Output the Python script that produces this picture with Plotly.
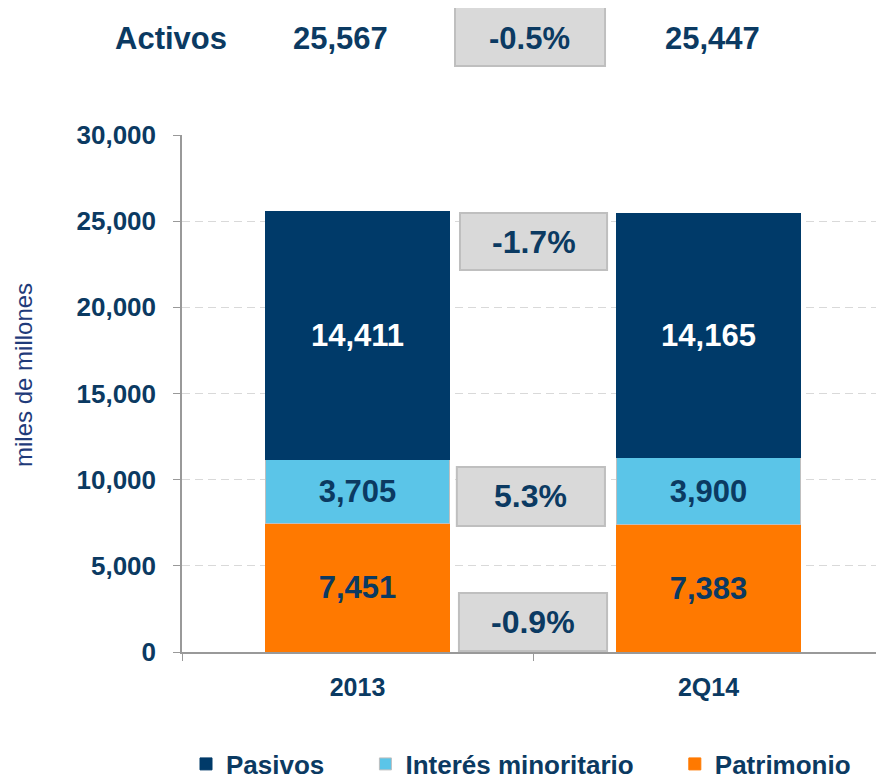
import plotly.graph_objects as go

# ---------------- data ----------------
categories = ["2013", "2Q14"]
patrimonio = [7451, 7383]
interes = [3705, 3900]
pasivos = [14411, 14165]
activos = [25567, 25447]
series_names = ["Patrimonio", "Interés minoritario", "Pasivos"]
y_ticks = [0, 5000, 10000, 15000, 20000, 25000, 30000]
y_title = "miles de millones"

# ---------------- styles ----------------
FONT = "Liberation Sans, Arial, sans-serif"
NAVY = "#003a69"
TEXT_NAVY = "#0b3a62"
LIGHT_BLUE = "#5bc5e8"
ORANGE = "#ff7900"
BOX_FILL = "#d9d9d9"
BOX_LINE = "#bfbfbf"
NBSP = "\u00a0"
W, H = 876, 776  # page body has an 8px margin


def pct(a, b):
    return f"{(b - a) / a * 100:.1f}%"


fig = go.Figure()

series = [
    (series_names[0], patrimonio, ORANGE, ORANGE, TEXT_NAVY, 0),
    (series_names[1], interes, LIGHT_BLUE, BOX_LINE, TEXT_NAVY, 5),
    (series_names[2], pasivos, NAVY, NAVY, "white", 5),
]
for name, vals, color, lcolor, tcolor, pad in series:
    fig.add_trace(go.Bar(
        x=categories, y=vals, name=name + NBSP * pad,
        marker=dict(color=color, line=dict(color=lcolor, width=1)),
        width=0.527,
        text=[f"{v:,}" for v in vals],
        textposition="inside", insidetextanchor="middle",
        textfont=dict(family=FONT, size=31, color=tcolor, weight="bold"),
        constraintext="none",
        hoverinfo="skip",
    ))

# change boxes inside plot (layout positions)
boxes = [
    (pct(pasivos[0], pasivos[1]), 0.292, 0.711, 22170, 25470),
    (pct(interes[0], interes[1]), 0.283, 0.705, 7310, 10740),
    (pct(patrimonio[0], patrimonio[1]), 0.289, 0.711, 60, 3420),
]
shapes = []
annotations = []
for label, x0, x1, y0, y1 in boxes:
    shapes.append(dict(type="rect", xref="x", yref="y", x0=x0, x1=x1, y0=y0, y1=y1,
                       fillcolor=BOX_FILL, line=dict(color=BOX_LINE, width=2), layer="above"))
    annotations.append(dict(xref="x", yref="y", x=(x0 + x1) / 2, y=(y0 + y1) / 2,
                            text=label, showarrow=False,
                            font=dict(family=FONT, size=32, color=TEXT_NAVY, weight="bold")))

# header row
shapes.append(dict(type="rect", xref="paper", yref="paper", x0=0.3889, x1=0.6026,
                   y0=1.1335, y1=1.2476, fillcolor=BOX_FILL,
                   line=dict(color=BOX_LINE, width=2)))
header = [
    ("Activos", -0.0157),
    (f"{activos[0]:,}", 0.2251),
    (pct(activos[0], activos[1]), 0.4957),
    (f"{activos[1]:,}", 0.755),
]
for txt, xp in header:
    annotations.append(dict(xref="paper", yref="paper", x=xp, y=1.1876,
                            text=txt, showarrow=False,
                            xanchor="center", yanchor="middle",
                            font=dict(family=FONT, size=31, color=TEXT_NAVY, weight="bold")))

# vertical axis title
annotations.append(dict(xref="paper", yref="paper", x=-0.2251, y=0.5358,
                        text=y_title, textangle=-90, showarrow=False,
                        xanchor="center", yanchor="middle",
                        font=dict(family=FONT, size=24, color="#1f3b7a")))

fig.update_layout(
    width=W, height=H,
    margin=dict(l=174, r=0, t=127, b=132, autoexpand=False),
    paper_bgcolor="white", plot_bgcolor="white",
    barmode="stack",
    shapes=shapes, annotations=annotations,
    showlegend=True,
    legend=dict(orientation="h", traceorder="reversed",
                x=178 / W, xref="container", xanchor="left",
                y=20 / H, yref="container", yanchor="middle",
                font=dict(family=FONT, size=26, color=TEXT_NAVY, weight="bold"),
                itemwidth=30, bgcolor="rgba(0,0,0,0)"),
    font=dict(family=FONT),
)
fig.update_xaxes(
    range=[-0.5, 1.5], showline=True, linecolor="#999999", linewidth=1.5,
    ticks="outside", tickson="boundaries", ticklen=7, tickcolor="#999999",
    tickfont=dict(family=FONT, size=25, color=TEXT_NAVY, weight="bold"),
    ticklabelstandoff=12,
    showgrid=False, automargin=False,
)
fig.update_yaxes(
    range=[0, 30000], tickvals=y_ticks,
    ticktext=[f"{v:,}" for v in y_ticks],
    showline=True, linecolor="#999999", linewidth=1.5,
    ticks="outside", ticklen=7, tickcolor="#999999",
    tickfont=dict(family=FONT, size=26, color=TEXT_NAVY, weight="bold"),
    ticklabelstandoff=12,
    showgrid=True, gridcolor="#d9d9d9", griddash="8px,5px", gridwidth=1,
    zeroline=False, automargin=False,
)

fig.write_html("out.html")
